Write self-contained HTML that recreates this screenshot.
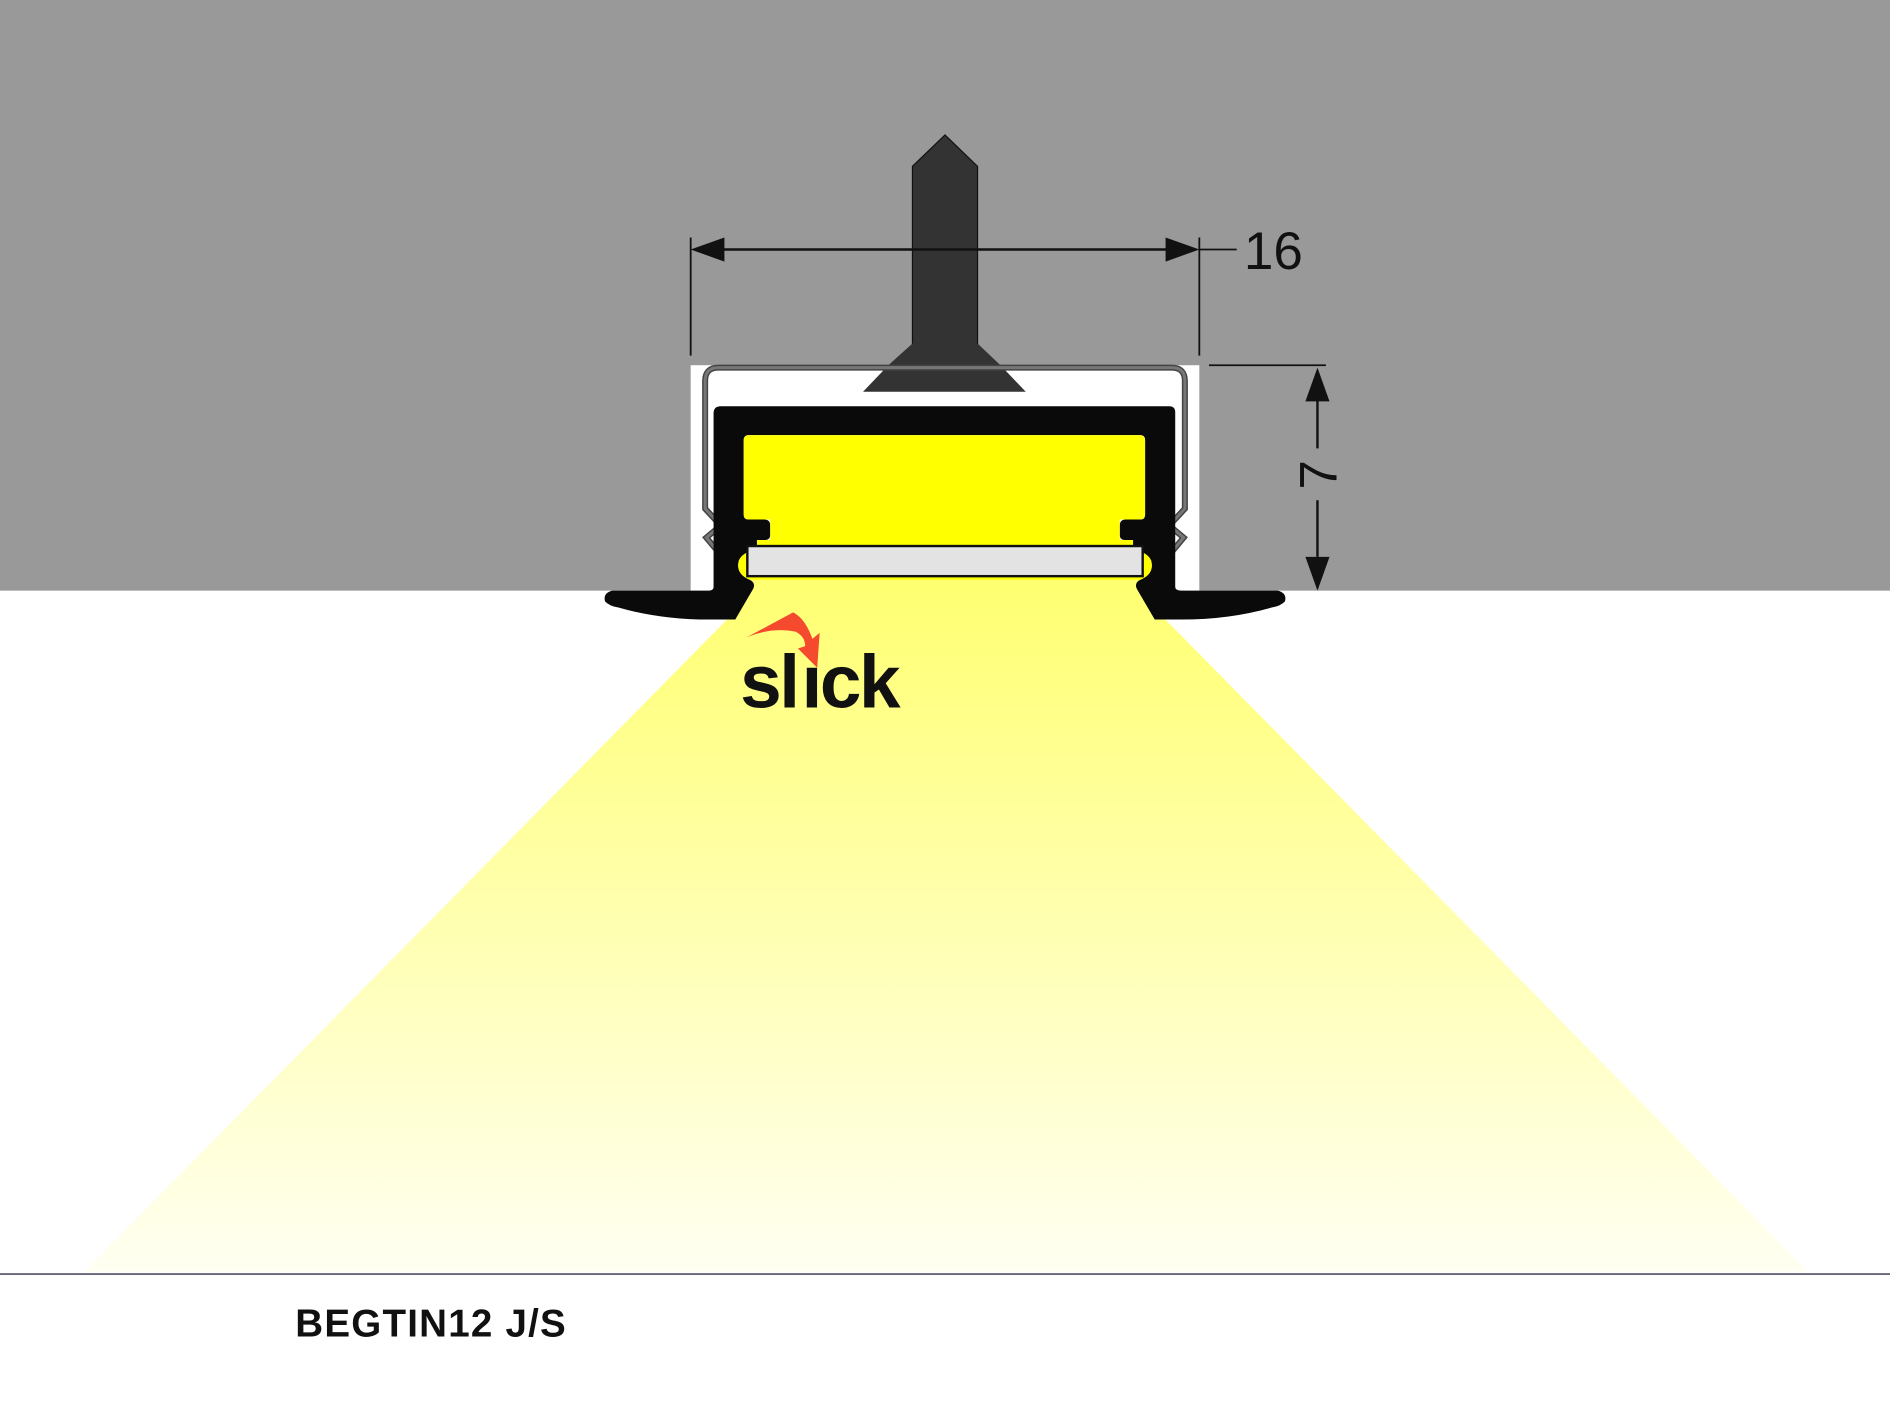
<!DOCTYPE html>
<html><head><meta charset="utf-8"><style>html,body{margin:0;padding:0;background:#fff}svg{display:block}</style></head>
<body>
<svg width="1890" height="1418" viewBox="0 0 1568 1176.4" preserveAspectRatio="none" xmlns="http://www.w3.org/2000/svg">
<defs>
<linearGradient id="beam" x1="0" y1="0" x2="0" y2="1">
<stop offset="0" stop-color="#ffff70"/>
<stop offset="1" stop-color="#fffff2"/>
</linearGradient>
</defs>
<rect x="0" y="0" width="1568" height="1176.4" fill="#fff"/>
<rect x="0" y="0" width="1568" height="490" fill="#999"/>
<rect x="573" y="303" width="422" height="187" fill="#fff"/>
<polygon points="618,478 950,478 958,505 1500,1055 70,1055 612,505" fill="url(#beam)"/>
<polygon points="757,138 784,112 811,138 811,286 757,286" fill="#333" stroke="#111" stroke-width="1"/>
<polygon points="757,285 811,285 830,303 737,303" fill="#333"/>
<polygon points="737,303 830,303 851,325 716,325" fill="#333"/>
<path d="M596,458 L586,446 L598,436 L585,422 L585,316 Q585,305 596,305 L972,305 Q983,305 983,316 L983,422 L970,436 L982,446 L972,458" fill="none" stroke="#444" stroke-width="5"/>
<path d="M596,458 L586,446 L598,436 L585,422 L585,316 Q585,305 596,305 L972,305 Q983,305 983,316 L983,422 L970,436 L982,446 L972,458" fill="none" stroke="#777" stroke-width="2.5"/>
<path d="M598,337 L970,337 Q975,337 975,342 L975,487 Q975,490 980,490 L1060,490 Q1068,492 1066,499 Q1062,503 1055,504 Q1020,514 980,514 L958,514 L944,490 Q940,484 946,481 Q958,476 955,465 Q952,458 940,456 L940,448 L933,448 Q929,448 929,444 L929,436 Q929,431 934,431 L946,431 Q950,431 950,427 L950,365 Q950,361 946,361 L621,361 Q617,361 617,365 L617,427 Q617,431 621,431 L634,431 Q639,431 639,436 L639,444 Q639,448 635,448 L628,448 L628,456 Q616,458 613,465 Q610,476 622,481 Q628,484 624,490 L610,514 L588,514 Q548,514 513,504 Q506,503 502,499 Q500,492 508,490 L588,490 Q592,490 592,487 L592,343 Q592,337 598,337 Z" fill="#0a0a0a"/>
<rect x="617" y="361" width="333" height="70" rx="4" fill="#ffff00"/>
<rect x="639" y="425" width="290" height="30" fill="#ffff00"/>
<path d="M628,448 L940,448 L940,456 Q952,458 955,465 Q958,476 946,481 L622,481 Q610,476 613,465 Q616,458 628,456 Z" fill="#ffff00"/>
<rect x="620" y="453" width="328" height="25" fill="#e3e3e3" stroke="#111" stroke-width="2"/>
<g stroke="#111" stroke-width="1.5" fill="none">
<line x1="573" y1="197" x2="573" y2="295"/>
<line x1="995" y1="197" x2="995" y2="295"/>
<line x1="600" y1="207" x2="968" y2="207" stroke-width="2"/>
<line x1="995" y1="207" x2="1026" y2="207"/>
<line x1="1003" y1="303" x2="1100" y2="303"/>
<line x1="1093" y1="332" x2="1093" y2="372" stroke-width="2"/>
<line x1="1093" y1="415" x2="1093" y2="462" stroke-width="2"/>
</g>
<polygon points="573,207 601,197 601,217" fill="#111"/>
<polygon points="995,207 967,197 967,217" fill="#111"/>
<polygon points="1093,305 1083,333 1103,333" fill="#111"/>
<polygon points="1093,490 1083,462 1103,462" fill="#111"/>
<text x="1032" y="223" font-family="Liberation Sans, sans-serif" font-size="44" fill="#111">16</text>
<text transform="translate(1109,394) rotate(-90)" font-family="Liberation Sans, sans-serif" font-size="44" fill="#111" text-anchor="middle">7</text>
<path d="M619,529 Q640,520 660,524 Q668,528 668,536 L662,538 L678,554 L680,525 L674,530 Q668,513 658,508 Z" fill="#f54a2e"/>
<text x="614" y="587" font-family="Liberation Sans, sans-serif" font-weight="bold" font-size="62" fill="#111" letter-spacing="-2">sl</text>
<text x="665" y="587" font-family="Liberation Sans, sans-serif" font-weight="bold" font-size="62" fill="#111" letter-spacing="-2">ıck</text>
<line x1="0" y1="1057" x2="1568" y2="1057" stroke="#667" stroke-width="1.5"/>
<text x="245" y="1109" font-family="Liberation Sans, sans-serif" font-weight="bold" font-size="32" fill="#111" letter-spacing="1">BEGTIN12 J/S</text>
</svg>
</body></html>
